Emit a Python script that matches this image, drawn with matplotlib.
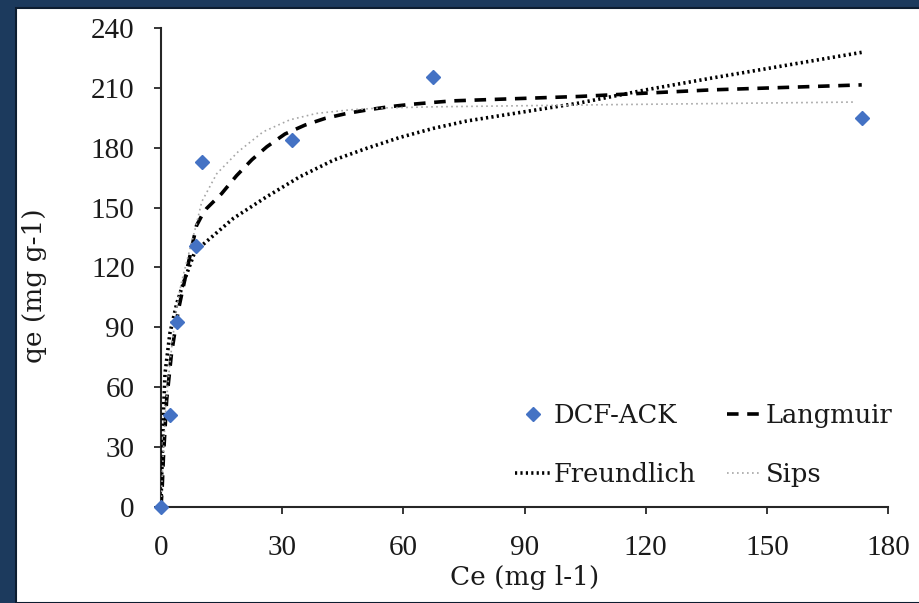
import matplotlib.pyplot as plt
from matplotlib.patches import Rectangle

# experimental points
ce_data = [0, 2.2, 4.0, 8.7, 10.1, 32.4, 67.3, 173.5]
qe_data = [0, 46, 92.6, 131, 172.8, 183.8, 215.4, 194.8]

# model curves
lang_x = [0, 0.3, 0.6, 1.4, 2.6, 4.3, 6.4, 8.8, 10.1, 11.3, 15, 18.7, 22.5, 26.2,
          30.7, 35.7, 40.6, 46, 50.9, 56.3, 61.6, 67.3, 72.3, 103.5, 136.3, 173.5]
lang_y = [0, 10, 25, 53.6, 77, 98.7, 118.7, 141, 146, 149.6, 157, 166, 174, 180.5,
          186.9, 191.4, 194.7, 197.2, 198.9, 200.5, 201.7, 202.7, 203.5, 205.7, 209, 211.5]

freu_x = [0, 0.15, 0.4, 0.6, 1.0, 2.2, 3.9, 5.5, 8.4, 10.1, 17.9, 26.2, 34.4, 42.7,
          50.9, 59.2, 67.4, 75.7, 103.5, 120, 136.3, 173.5]
freu_y = [0, 15, 30, 47, 67, 87, 102, 112, 128, 131, 144.6, 155.5, 165.5, 173.8,
          179.7, 185.2, 189.7, 193.4, 202.4, 209, 214.9, 227.8]

sips_x = [0, 0.5, 1.2, 2.2, 3.5, 5, 7, 8.8, 10.1, 13.8, 19.1, 25.3, 31.9, 38.5,
          46.8, 54.2, 67.3, 111.7, 172]
sips_y = [0, 25, 50, 72, 95, 112, 128, 142, 153, 167, 178, 188, 194, 197.2,
          199, 199.9, 200.5, 201.6, 202.9]

xticks = [0, 30, 60, 90, 120, 150, 180]
yticks = [0, 30, 60, 90, 120, 150, 180, 210, 240]

fig = plt.figure(figsize=(9.2, 6.03), dpi=100, facecolor='#1c3a5d')
fig.patches.append(Rectangle((16 / 920, 0), 1, 1 - 8 / 603, transform=fig.transFigure,
                             facecolor='white', edgecolor='#0d1d30', linewidth=1.5, zorder=-1))

ax = fig.add_axes([161 / 920, 1 - 507 / 603, (888 - 161) / 920, (507 - 28) / 603])
ax.set_facecolor('none')

ax.plot(freu_x, freu_y, color='black', linestyle=(0, (0.6, 0.9)), linewidth=2.6,
        label='Freundlich', zorder=3)
ax.plot(lang_x, lang_y, color='black', linestyle=(0, (3.2, 2.4)), linewidth=2.6,
        label='Langmuir', zorder=3)
ax.plot(sips_x, sips_y, color='#a6a6a6', linestyle=(0, (1, 2)), linewidth=1.2,
        label='Sips', zorder=3)
ax.plot(ce_data, qe_data, linestyle='none', marker='D', markersize=7,
        color='#4472c4', label='DCF-ACK', zorder=4, clip_on=False)

ax.set_xlim(0, 180)
ax.set_ylim(0, 240)
ax.set_xticks(xticks)
ax.set_yticks(yticks)
for side in ['top', 'right']:
    ax.spines[side].set_visible(False)
for side in ['left', 'bottom']:
    ax.spines[side].set_linewidth(1.5)
    ax.spines[side].set_color('#262626')
ax.tick_params(axis='both', direction='out', length=5, width=1.3, color='#262626',
               labelsize=21)
ax.tick_params(axis='x', pad=15)
ax.tick_params(axis='y', pad=14)
for lab in ax.get_xticklabels() + ax.get_yticklabels():
    lab.set_fontfamily('Liberation Serif')
    lab.set_color('#1a1a1a')

ax.set_xlabel('Ce (mg l-1)', fontsize=19, family='DejaVu Serif', color='#1a1a1a')
ax.set_ylabel('qe (mg g-1)', fontsize=19, family='DejaVu Serif', color='#1a1a1a')
ax.xaxis.set_label_coords(0.5, -0.122)
ax.yaxis.set_label_coords(-0.157, 0.463)

h = {l.get_label(): l for l in ax.get_lines()}
handles = [h['DCF-ACK'], h['Freundlich'], h['Langmuir'], h['Sips']]
leg = fig.legend(handles, [x.get_label() for x in handles], ncol=2, loc='center',
                 bbox_to_anchor=(704 / 920, 1 - 445 / 603), frameon=False,
                 prop={'family': 'DejaVu Serif', 'size': 18.5}, handlelength=1.35,
                 handletextpad=0.15, columnspacing=1.2, labelspacing=1.3,
                 borderpad=0, numpoints=1)
for t in leg.get_texts():
    t.set_color('#1a1a1a')

fig.savefig('out.png', dpi=100, facecolor=fig.get_facecolor())
